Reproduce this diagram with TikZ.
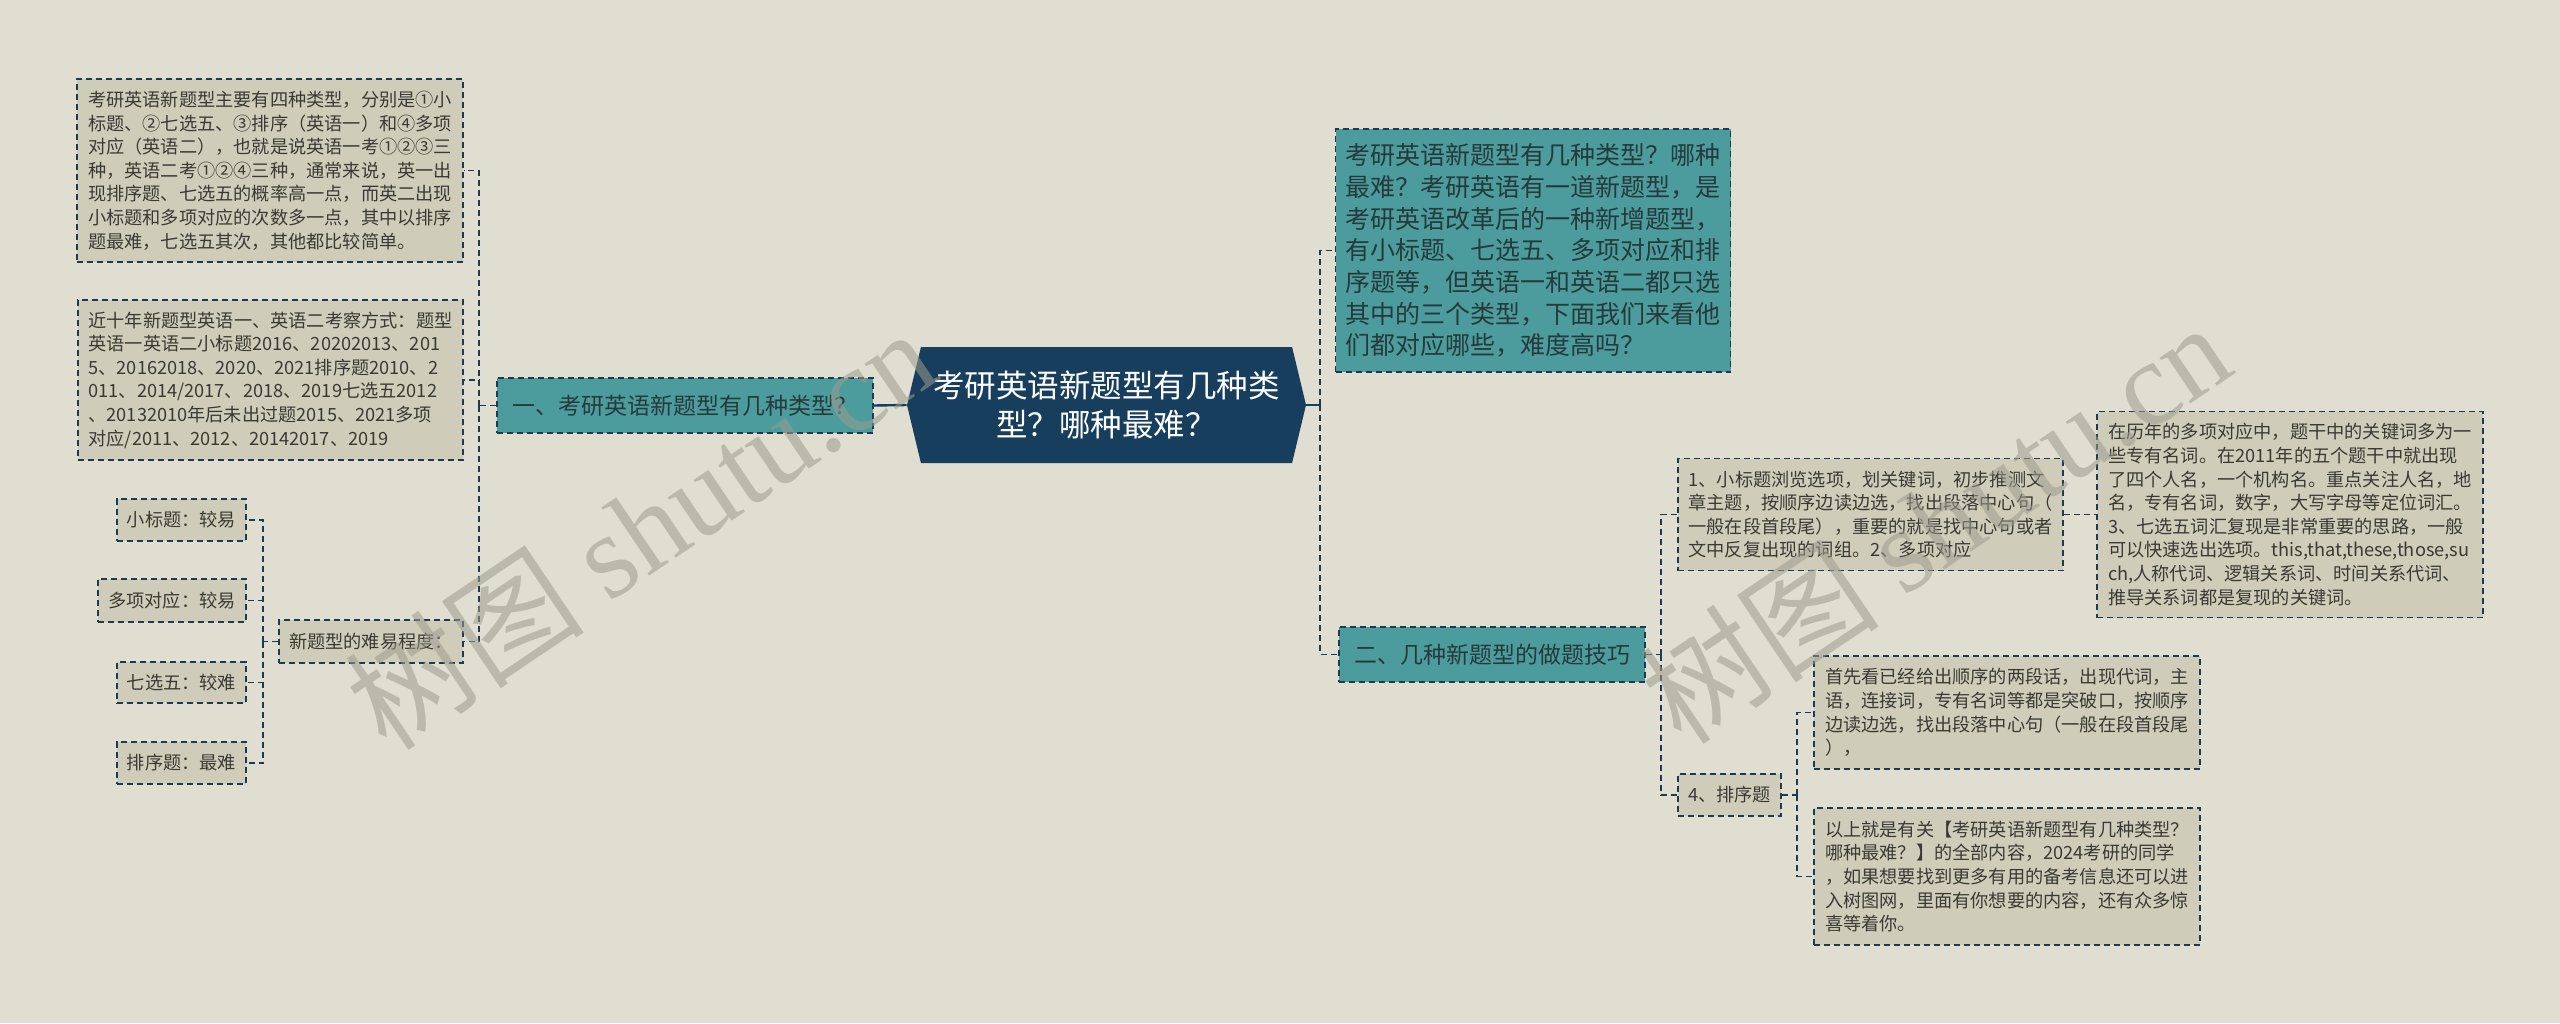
\documentclass[tikz,border=0pt]{standalone}
\usepackage{fontspec}
\setmainfont{Noto Sans CJK SC}
\newfontfamily\wmfont{Liberation Serif}
\usetikzlibrary{shapes.symbols}
\definecolor{bgcol}{HTML}{DFDED1}
\definecolor{leafcol}{HTML}{CFCDB9}
\definecolor{tealcol}{HTML}{4C9C9E}
\definecolor{rootcol}{HTML}{173E5C}
\definecolor{linecol}{HTML}{1E3A4F}
\definecolor{txtcol}{HTML}{3A3A34}
\definecolor{tealtxt}{HTML}{263A3C}
\definecolor{wmcol}{HTML}{9C9B8E}
\tikzset{
    link/.style={draw=linecol,line width=0.75pt,dash pattern=on 3pt off 2pt},
    solidlink/.style={draw=rootcol,line width=1.2pt},
    leaf/.style={link,fill=leafcol,align=left,inner xsep=5pt,text=txtcol,
        font=\fontsize{9.1}{11.8}\selectfont},
    topic/.style={link,fill=tealcol,align=left,inner xsep=5pt,text=tealtxt,
        font=\fontsize{11.5}{14}\selectfont},
    descbox/.style={topic,font=\fontsize{12.5}{15.85}\selectfont},
    rootnode/.style={signal,signal to=east and west,signal pointer angle=153,
        fill=rootcol,text=white,align=center,font=\fontsize{15.75}{19.5}\selectfont},
    wm/.style={text=wmcol,opacity=0.55,font=\fontsize{60}{64}\selectfont}
}
\begin{document}
\begin{tikzpicture}[x=0.5pt,y=-0.5pt]
    \fill[bgcol] (0,0) rectangle (2560,1023);
    \useasboundingbox (0,0) rectangle (2560,1023);

    % centre
    \node[rootnode,minimum width=199.5pt,minimum height=58pt] (root) at (1106.5,405)
        {考研英语新题型有几种类\\型？哪种最难？};

    % left side
    \node[topic,minimum width=188pt,minimum height=27.5pt] (q1) at (685,405.5)
        {一、考研英语新题型有几种类型？};
    \node[leaf,minimum width=193pt,minimum height=91.5pt] (t1) at (270,170.5)
        {考研英语新题型主要有四种类型，分别是①小\\标题、②七选五、③排序（英语一）和④多项\\对应（英语二），也就是说英语一考①②③三\\种，英语二考①②④三种，通常来说，英一出\\现排序题、七选五的概率高一点，而英二出现\\小标题和多项对应的次数多一点，其中以排序\\题最难，七选五其次，其他都比较简单。};
    \node[leaf,minimum width=192.5pt,minimum height=80pt] (t2) at (270.5,380)
        {近十年新题型英语一、英语二考察方式：题型\\英语一英语二小标题2016、20202013、201\\5、20162018、2020、2021排序题2010、2\\011、2014/2017、2018、2019七选五2012\\、20132010年后未出过题2015、2021多项\\对应/2011、2012、20142017、2019};
    \node[leaf,minimum width=92pt,minimum height=21.5pt] (t3) at (371,641.5) {新题型的难易程度：};
    \node[leaf,minimum width=64.5pt,minimum height=21pt] (d1) at (181.5,520) {小标题：较易};
    \node[leaf,minimum width=74pt,minimum height=21.5pt] (d2) at (172,600.5) {多项对应：较易};
    \node[leaf,minimum width=64.5pt,minimum height=20.5pt] (d3) at (181.5,682.5) {七选五：较难};
    \node[leaf,minimum width=64.5pt,minimum height=21pt] (d4) at (181.5,763) {排序题：最难};

    \draw[solidlink] (q1.east) -- (root.west);
    \coordinate (lt) at (479,405.5);
    \draw[link] (q1.west) -- (lt);
    \foreach \n in {t1,t2,t3} \draw[link] (lt) |- (\n.east);
    \coordinate (dt) at (263,641.5);
    \draw[link] (t3.west) -- (dt);
    \foreach \n in {d1,d2,d3,d4} \draw[link] (dt) |- (\n.east);

    % right side
    \node[descbox,minimum width=195pt,minimum height=121.5pt] (desc) at (1533,250.5)
        {考研英语新题型有几种类型？哪种\\最难？考研英语有一道新题型，是\\考研英语改革后的一种新增题型，\\有小标题、七选五、多项对应和排\\序题等，但英语一和英语二都只选\\其中的三个类型，下面我们来看他\\们都对应哪些，难度高吗？};
    \node[topic,minimum width=153pt,minimum height=27.5pt] (q2) at (1492,654.5)
        {二、几种新题型的做题技巧};
    \node[leaf,minimum width=192.5pt,minimum height=56pt] (s1) at (1870.5,514.5)
        {1、小标题浏览选项，划关键词，初步推测文\\章主题，按顺序边读边选，找出段落中心句（\\一般在段首段尾），重要的就是找中心句或者\\文中反复出现的词组。2、多项对应};
    \node[leaf,minimum width=193pt,minimum height=103pt] (h1) at (2290,514.5)
        {在历年的多项对应中，题干中的关键词多为一\\些专有名词。在2011年的五个题干中就出现\\了四个人名，一个机构名。重点关注人名，地\\名，专有名词，数字，大写字母等定位词汇。\\3、七选五词汇复现是非常重要的思路，一般\\可以快速选出选项。this,that,these,those,su\\ch,人称代词、逻辑关系词、时间关系代词、\\推导关系词都是复现的关键词。};
    \node[leaf,minimum width=51.5pt,minimum height=21pt] (s4) at (1729.5,795) {4、排序题};
    \node[leaf,minimum width=193pt,minimum height=56.5pt] (s4a) at (2007,712.5)
        {首先看已经给出顺序的两段话，出现代词，主\\语，连接词，专有名词等都是突破口，按顺序\\边读边选，找出段落中心句（一般在段首段尾\\），};
    \node[leaf,minimum width=193pt,minimum height=68.5pt] (s4b) at (2007,876.5)
        {以上就是有关【考研英语新题型有几种类型？\\哪种最难？】的全部内容，2024考研的同学\\，如果想要找到更多有用的备考信息还可以进\\入树图网，里面有你想要的内容，还有众多惊\\喜等着你。};

    \coordinate (rt) at (1320,405);
    \draw[solidlink] (root.east) -- (rt);
    \draw[link] (rt) |- (desc.west);
    \draw[link] (rt) |- (q2.west);
    \coordinate (bt) at (1661,654.5);
    \draw[link] (q2.east) -- (bt);
    \foreach \n in {s1,s4} \draw[link] (bt) |- (\n.west);
    \draw[link] (s1.east) -- (h1.west);
    \coordinate (ft) at (1797,795);
    \draw[link] (s4.east) -- (ft);
    \foreach \n in {s4a,s4b} \draw[link] (ft) |- (\n.west);

    % watermark
    \node[wm,rotate=34] (wm1) at (640,528) {树图 {\wmfont shutu.cn}};
    \node[wm,rotate=34] (wm2) at (1935,522) {树图 {\wmfont shutu.cn}};
\end{tikzpicture}
\end{document}
